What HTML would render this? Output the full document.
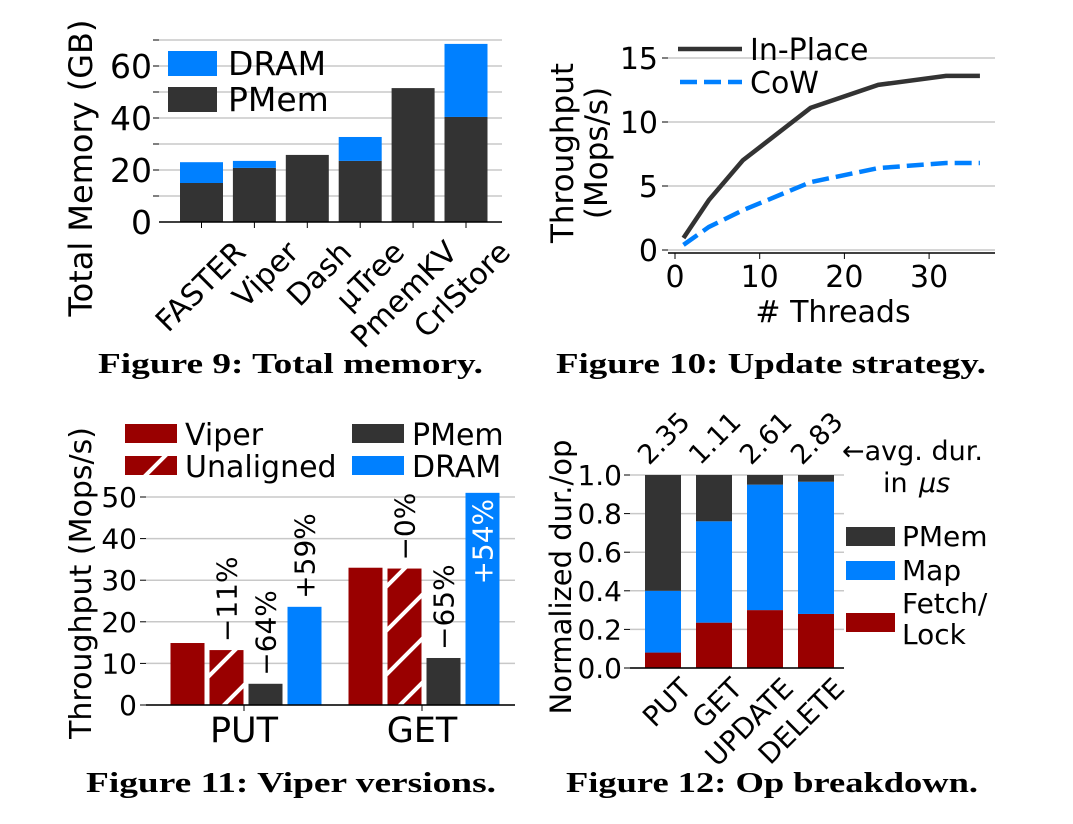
<!DOCTYPE html>
<html><head><meta charset="utf-8"><style>
html,body{margin:0;padding:0;background:#fff;width:1073px;height:824px;overflow:hidden}
svg{display:block;font-family:"DejaVu Sans","Liberation Sans",sans-serif}
.cap{font-family:"Liberation Serif",serif;font-weight:bold;font-size:29px;fill:#000}
</style></head><body>
<svg id="fig" width="1073" height="824" viewBox="0 0 1073 824" xmlns="http://www.w3.org/2000/svg">
<defs>
<pattern id="hatch" patternUnits="userSpaceOnUse" width="44" height="44" x="0" y="5">
<rect width="44" height="44" fill="#990000"/>
<path d="M-4,48 L48,-4 M-4,4 L4,-4 M40,48 L48,40" stroke="#fff" stroke-width="4"/>
</pattern>
</defs>
<text class="cap" x="98" y="373" textLength="385" lengthAdjust="spacingAndGlyphs">Figure 9: Total memory.</text>
<text class="cap" x="556" y="373" textLength="430" lengthAdjust="spacingAndGlyphs">Figure 10: Update strategy.</text>
<text class="cap" x="86" y="792" textLength="410" lengthAdjust="spacingAndGlyphs">Figure 11: Viper versions.</text>
<text class="cap" x="566" y="792" textLength="412" lengthAdjust="spacingAndGlyphs">Figure 12: Op breakdown.</text>
</svg>
<script>
// Figure 9
const memSystems = ["FASTER","Viper","Dash","µTree","PmemKV","CrlStore"];
const memPmem = [15, 20.8, 25.8, 23.5, 51.5, 40.4];
const memDram = [8, 2.7, 0, 9.2, 0, 28.1];
const memTicks = [0, 20, 40, 60];
// Figure 10
const thrThreads = [1, 4, 8, 16, 24, 32, 36];
const thrInPlace = [0.94, 3.9, 7.0, 11.1, 12.9, 13.6, 13.6];
const thrCoW = [0.4, 1.8, 3.1, 5.3, 6.4, 6.8, 6.8];
const thrYTicks = [0, 5, 10, 15];
const thrXTicks = [0, 10, 20, 30];
// Figure 11
const vGroups = ["PUT","GET"];
const vViper = [14.9, 33.0];
const vUnaligned = [13.2, 32.8];
const vPmem = [5.1, 11.3];
const vDram = [23.6, 51.0];
const vLabelsUnaligned = ["−11%","−0%"];
const vLabelsPmem = ["−64%","−65%"];
const vLabelsDram = ["+59%","+54%"];
const vTicks = [0, 10, 20, 30, 40, 50];
// Figure 12
const opNames = ["PUT","GET","UPDATE","DELETE"];
const opFetch = [0.08, 0.235, 0.30, 0.28];
const opMap = [0.32, 0.525, 0.65, 0.685];
const opPmem = [0.60, 0.24, 0.05, 0.035];
const opAvg = ["2.35","1.11","2.61","2.83"];
const opTicks = [0, 0.2, 0.4, 0.6, 0.8, 1.0];

const DARK="#333333", BLUE="#0080ff", RED="#990000", GRID="#c8c8c8";
const svg=document.getElementById('fig');
const NS="http://www.w3.org/2000/svg";
function mk(tag, attrs, txt){const e=document.createElementNS(NS,tag);for(const k in attrs)e.setAttribute(k,attrs[k]);if(txt!==undefined)e.textContent=txt;svg.appendChild(e);return e;}
let e;

// ---------- Figure 9 ----------
(function(){
 const y0=222, k=2.6, x1=159, x2=502;
 const ys=v=>y0-v*k;
 const xc=i=>201.5+i*52.9, bw=43;
 for(let v=10; v<=70; v+=10){
  e=mk('line',{x1:x1,x2:x2,y1:ys(v),y2:ys(v),stroke:GRID,'stroke-width':1.5});
  
  
  e=mk('line',{x1:x1-6,x2:x1,y1:ys(v),y2:ys(v),stroke:'#000','stroke-width':1});
  
  
 }
 memTicks.forEach(t=>{
  e=mk('text',{x:152,y:ys(t)+12,'text-anchor':'end','font-size':33,fill:'#000'},String(t));
  
  
 });
 memSystems.forEach((s,i)=>{
  e=mk('rect',{x:xc(i)-bw/2,y:ys(memPmem[i]),width:bw,height:memPmem[i]*k,fill:DARK});
  
  
  if(memDram[i]>0){
   e=mk('rect',{x:xc(i)-bw/2,y:ys(memPmem[i]+memDram[i]),width:bw,height:memDram[i]*k,fill:BLUE});
   
   
  }
  e=mk('line',{x1:xc(i),x2:xc(i),y1:y0,y2:y0+6,stroke:'#000','stroke-width':1});
  
  
  e=mk('text',{x:xc(i)+46,y:y0+32,'text-anchor':'end','font-size':30,fill:'#000',transform:`rotate(-45 ${xc(i)+46} ${y0+32})`},s);
  
  
 });
 e=mk('line',{x1:x1,x2:x2,y1:y0,y2:y0,stroke:'#000','stroke-width':1.5});
 
 
 e=mk('rect',{x:168,y:51,width:49,height:25,fill:BLUE});
 
 
 e=mk('text',{x:228,y:75,'font-size':33,fill:'#000'},'DRAM');
 
 
 e=mk('rect',{x:168,y:87,width:49,height:25,fill:DARK});
 
 
 e=mk('text',{x:228,y:111,'font-size':33,fill:'#000'},'PMem');
 
 
 e=mk('text',{x:0,y:0,'text-anchor':'middle','font-size':32,fill:'#000',transform:'translate(92 168) rotate(-90)'},'Total Memory (GB)');
 
 
})();

// ---------- Figure 10 ----------
(function(){
 const y0=250, ky=12.8, x0=675, kx=8.47;
 const ys=v=>y0-v*ky, xs=v=>x0+v*kx;
 thrYTicks.forEach(t=>{
  e=mk('line',{x1:668,x2:995,y1:ys(t),y2:ys(t),stroke:GRID,'stroke-width':1.5});
  
  
  e=mk('line',{x1:662,x2:668,y1:ys(t),y2:ys(t),stroke:'#000','stroke-width':1});
  
  
  e=mk('text',{x:658,y:ys(t)+11,'text-anchor':'end','font-size':30,fill:'#000'},String(t));
  
  
 });
 e=mk('line',{x1:668,x2:995,y1:253,y2:253,stroke:'#000','stroke-width':1.5});
 
 
 thrXTicks.forEach(t=>{
  e=mk('line',{x1:xs(t),x2:xs(t),y1:253,y2:259,stroke:'#000','stroke-width':1});
  
  
  e=mk('text',{x:xs(t),y:287,'text-anchor':'middle','font-size':30,fill:'#000'},String(t));
  
  
 });
 const p1=thrThreads.map((t,i)=>xs(t)+','+ys(thrInPlace[i])).join(' ');
 e=mk('polyline',{points:p1,fill:'none',stroke:DARK,'stroke-width':4.5});
 
 
 const p2=thrThreads.map((t,i)=>xs(t)+','+ys(thrCoW[i])).join(' ');
 e=mk('polyline',{points:p2,fill:'none',stroke:BLUE,'stroke-width':4.5,'stroke-dasharray':'17 7'});
 
 
 e=mk('line',{x1:678,x2:742,y1:49,y2:49,stroke:DARK,'stroke-width':4.5});
 
 
 e=mk('text',{x:750,y:60,'font-size':30,fill:'#000'},'In-Place');
 
 
 e=mk('line',{x1:680,x2:742,y1:82,y2:82,stroke:BLUE,'stroke-width':4.5,'stroke-dasharray':'17 7'});
 
 
 e=mk('text',{x:750,y:93,'font-size':30,fill:'#000'},'CoW');
 
 
 e=mk('text',{x:0,y:0,'text-anchor':'middle','font-size':31,fill:'#000',transform:'translate(573 153) rotate(-90)'},'Throughput');
 
 
 e=mk('text',{x:0,y:0,'text-anchor':'middle','font-size':31,fill:'#000',transform:'translate(607 153) rotate(-90)'},'(Mops/s)');
 
 
 e=mk('text',{x:833,y:322,'text-anchor':'middle','font-size':30,fill:'#000'},'# Threads');
 
 
})();

// ---------- Figure 11 ----------
(function(){
 const y0=705, k=4.16;
 const ys=v=>y0-v*k;
 const gc=[244,422], bw=34, off=[-56.5,-17.5,21.5,60.5];
 vTicks.forEach(t=>{
  e=mk('line',{x1:146,x2:515,y1:ys(t),y2:ys(t),stroke:GRID,'stroke-width':1.5});
  
  
  e=mk('line',{x1:140,x2:146,y1:ys(t),y2:ys(t),stroke:'#000','stroke-width':1});
  
  
  e=mk('text',{x:137,y:ys(t)+10,'text-anchor':'end','font-size':28,fill:'#000'},String(t));
  
  
 });
 const series=[[vViper,RED,'viper'],[vUnaligned,'url(#hatch)','unaligned'],[vPmem,DARK,'pmem'],[vDram,BLUE,'dram']];
 vGroups.forEach((g,i)=>{
  series.forEach((s,j)=>{
   const v=s[0][i], x=gc[i]+off[j]-bw/2;
   e=mk('rect',{x:x,y:ys(v),width:bw,height:v*k,fill:s[1]});
   
   
  });
  const lab=[[vLabelsUnaligned,1,vUnaligned],[vLabelsPmem,2,vPmem],[vLabelsDram,3,vDram]];
  lab.forEach(L=>{
   const cx=gc[i]+off[L[1]]+10, v=L[2][i];
   const inside = v>45;
   const yy = inside ? ys(v)+6 : ys(v)-8;
   e=mk('text',{x:0,y:0,'text-anchor':inside?'end':'start','font-size':28,fill:inside?'#fff':'#000',transform:`translate(${cx} ${yy}) rotate(-90)`},L[0][i]);
   
   
  });
  e=mk('line',{x1:gc[i],x2:gc[i],y1:y0,y2:y0+6,stroke:'#000','stroke-width':1});
  
  
  e=mk('text',{x:gc[i],y:742,'text-anchor':'middle','font-size':35,fill:'#000'},g);
  
  
 });
 e=mk('line',{x1:146,x2:515,y1:y0,y2:y0,stroke:'#000','stroke-width':1.5});
 
 
 const leg=[[125,424,RED,'Viper'],[125,456,'url(#hatch)','Unaligned'],[352,424,DARK,'PMem'],[352,456,BLUE,'DRAM']];
 leg.forEach(L=>{
  e=mk('rect',{x:L[0],y:L[1],width:52,height:19,fill:L[2]});
  
  
  e=mk('text',{x:L[0]+60,y:L[1]+21,'font-size':30,fill:'#000'},L[3]);
  
  
 });
 e=mk('text',{x:0,y:0,'text-anchor':'middle','font-size':30,fill:'#000',transform:'translate(91 583) rotate(-90)'},'Throughput (Mops/s)');
 
 
})();

// ---------- Figure 12 ----------
(function(){
 const y0=668, k=193;
 const ys=v=>y0-v*k;
 const xc=i=>663+i*51, bw=36;
 opTicks.forEach(t=>{
  e=mk('line',{x1:630,x2:844,y1:ys(t),y2:ys(t),stroke:GRID,'stroke-width':1.5});
  
  
  e=mk('line',{x1:624,x2:630,y1:ys(t),y2:ys(t),stroke:'#000','stroke-width':1});
  
  
  e=mk('text',{x:622,y:ys(t)+10,'text-anchor':'end','font-size':28,fill:'#000'},t.toFixed(1));
  
  
 });
 opNames.forEach((n,i)=>{
  let base=0;
  [[opFetch,RED,'fetch-lock'],[opMap,BLUE,'map'],[opPmem,DARK,'pmem']].forEach(s=>{
   const v=s[0][i];
   e=mk('rect',{x:xc(i)-bw/2,y:ys(base+v),width:bw,height:v*k,fill:s[1]});
   
   
   base+=v;
  });
  e=mk('text',{x:0,y:0,'font-size':27,fill:'#000',transform:`translate(${xc(i)-14} ${466}) rotate(-45)`},opAvg[i]);
  
  
  e=mk('text',{x:0,y:0,'text-anchor':'end','font-size':28,fill:'#000',transform:`translate(${xc(i)+30} ${690}) rotate(-45)`},n);
  
  
 });
 e=mk('line',{x1:630,x2:844,y1:y0,y2:y0,stroke:'#000','stroke-width':1.5});
 
 
 e=mk('text',{x:842,y:460,'font-size':27,fill:'#000'},'←avg. dur.');
 
 
 e=mk('text',{x:883,y:492,'font-size':27,fill:'#000'},'in ');
 
 
 e=mk('text',{x:919,y:492,'font-size':27,'font-style':'italic',fill:'#000'},'μs');
 
 
 const leg=[[527,DARK,'PMem',546],[561,BLUE,'Map',580],[613,RED,'Fetch/',613]];
 leg.forEach(L=>{
  e=mk('rect',{x:846,y:L[0],width:49,height:19,fill:L[1]});
  
  
  e=mk('text',{x:902,y:L[3],'font-size':28,fill:'#000'},L[2]);
  
  
 });
 e=mk('text',{x:902,y:644,'font-size':28,fill:'#000'},'Lock');
 
 
 e=mk('text',{x:0,y:0,'text-anchor':'middle','font-size':29,fill:'#000',transform:'translate(571 577) rotate(-90)'},'Normalized dur./op');
 
 
})();
</script>
</body></html>
